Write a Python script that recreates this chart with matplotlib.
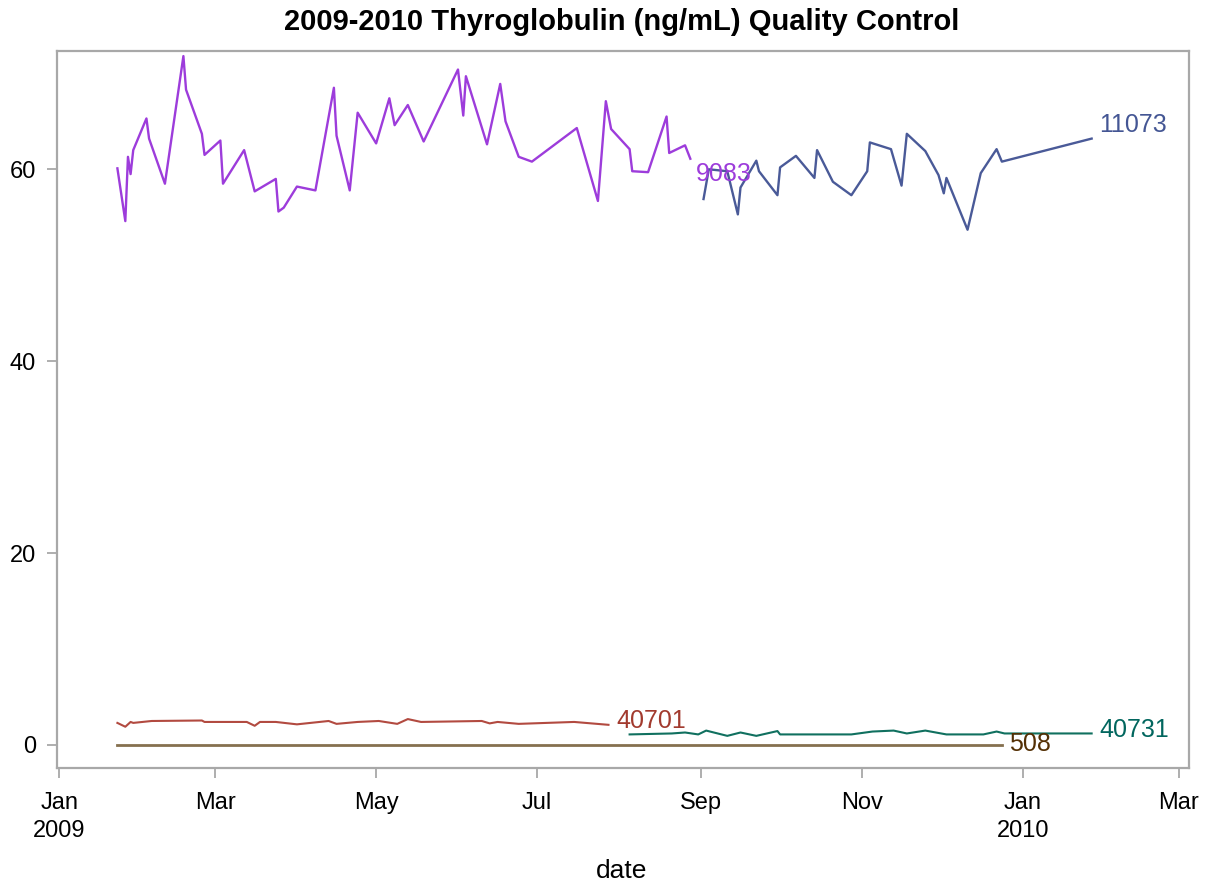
import matplotlib
matplotlib.use("Agg")
import matplotlib.pyplot as plt
import numpy as np
import pandas as pd

plt.rcParams['font.family'] = ['Liberation Sans', 'DejaVu Sans']

# ---------------- data ----------------
dates_9083 = ["2009-01-23", "2009-01-26", "2009-01-27", "2009-01-28", "2009-01-29",
              "2009-02-03", "2009-02-04", "2009-02-10", "2009-02-17", "2009-02-18",
              "2009-02-24", "2009-02-25", "2009-03-03", "2009-03-04", "2009-03-12",
              "2009-03-16", "2009-03-24", "2009-03-25", "2009-03-27", "2009-04-01",
              "2009-04-08", "2009-04-15", "2009-04-16", "2009-04-21", "2009-04-24",
              "2009-05-01", "2009-05-06", "2009-05-08", "2009-05-13", "2009-05-19",
              "2009-06-01", "2009-06-03", "2009-06-04", "2009-06-12", "2009-06-17",
              "2009-06-19", "2009-06-24", "2009-06-29", "2009-07-16", "2009-07-24",
              "2009-07-27", "2009-07-29", "2009-08-05", "2009-08-06", "2009-08-12",
              "2009-08-19", "2009-08-20", "2009-08-26", "2009-08-28"]
values_9083 = [60.1, 54.6, 61.3, 59.5, 62.0,
               65.3, 63.2, 58.5, 71.8, 68.3,
               63.7, 61.5, 63.0, 58.5, 62.0,
               57.7, 59.0, 55.6, 56.0, 58.2,
               57.8, 68.5, 63.5, 57.8, 65.9,
               62.7, 67.4, 64.6, 66.7, 62.9,
               70.4, 65.6, 69.7, 62.6, 68.9,
               65.0, 61.3, 60.8, 64.3, 56.7,
               67.1, 64.2, 62.1, 59.8, 59.7,
               65.5, 61.7, 62.5, 61.1]

dates_11073 = ["2009-09-02", "2009-09-04", "2009-09-11", "2009-09-15", "2009-09-16",
               "2009-09-22", "2009-09-23", "2009-09-30", "2009-10-01", "2009-10-07",
               "2009-10-14", "2009-10-15", "2009-10-21", "2009-10-28", "2009-11-03",
               "2009-11-04", "2009-11-12", "2009-11-16", "2009-11-18", "2009-11-25",
               "2009-11-30", "2009-12-02", "2009-12-03", "2009-12-11", "2009-12-16",
               "2009-12-22", "2009-12-24", "2010-01-27"]
values_11073 = [56.9, 60.0, 59.8, 55.3, 58.1,
                60.9, 59.8, 57.3, 60.2, 61.4,
                59.1, 62.0, 58.7, 57.3, 59.8,
                62.8, 62.1, 58.3, 63.7, 61.9,
                59.4, 57.5, 59.1, 53.7, 59.6,
                62.1, 60.8, 63.2]

dates_40701 = ["2009-01-23", "2009-01-26", "2009-01-28", "2009-01-29", "2009-02-05",
               "2009-02-24", "2009-02-25", "2009-03-13", "2009-03-16", "2009-03-18",
               "2009-03-24", "2009-04-01", "2009-04-13", "2009-04-16", "2009-04-24",
               "2009-05-02", "2009-05-09", "2009-05-13", "2009-05-18", "2009-06-10",
               "2009-06-13", "2009-06-16", "2009-06-24", "2009-07-15", "2009-07-28"]
values_40701 = [2.3, 1.9, 2.4, 2.3, 2.5,
                2.55, 2.4, 2.4, 2.0, 2.4,
                2.4, 2.15, 2.5, 2.2, 2.4,
                2.5, 2.2, 2.7, 2.4, 2.5,
                2.25, 2.4, 2.2, 2.4, 2.1]

dates_40731 = ["2009-08-05", "2009-08-21", "2009-08-26", "2009-08-31", "2009-09-03",
               "2009-09-11", "2009-09-16", "2009-09-22", "2009-09-30", "2009-10-01",
               "2009-10-14", "2009-10-28", "2009-11-05", "2009-11-13", "2009-11-18",
               "2009-11-25", "2009-12-03", "2009-12-17", "2009-12-22", "2009-12-25",
               "2010-01-27"]
values_40731 = [1.1, 1.2, 1.3, 1.1, 1.5,
                0.95, 1.3, 0.95, 1.45, 1.1,
                1.1, 1.1, 1.4, 1.5, 1.2,
                1.5, 1.1, 1.1, 1.4, 1.2,
                1.2]

dates_508 = ["2009-01-23", "2009-12-24"]
values_508 = [0.0, 0.0]

series_names = ["9083", "11073", "40701", "40731", "508"]

tick_dates = ["2009-01-01", "2009-03-01", "2009-05-01", "2009-07-01", "2009-09-01",
              "2009-11-01", "2010-01-01", "2010-03-01"]
tick_labels = ["Jan\n2009", "Mar", "May", "Jul", "Sep", "Nov", "Jan\n2010", "Mar"]
y_ticks = [0, 20, 40, 60]

title = "2009-2010 Thyroglobulin (ng/mL) Quality Control"
x_label = "date"

# ---------------- styles ----------------
line_colors = {"9083": "#9D3CDB", "11073": "#4A5A98", "40701": "#B24A40",
               "40731": "#10705F", "508": "#85704F"}
text_colors = {"9083": "#9D3CDB", "11073": "#445694", "40701": "#A23A2E",
               "40731": "#01665E", "508": "#543005"}
line_widths = {"9083": 1.7, "11073": 1.7, "40701": 1.5, "40731": 1.5, "508": 2.0}
# label offsets in pixels (dx, dy up)
label_offsets = {"9083": (6, -15), "11073": (7, 14), "40701": (8, 4),
                 "40731": (8, 3), "508": (7, 1)}

series = {
    "9083": (dates_9083, values_9083),
    "11073": (dates_11073, values_11073),
    "40701": (dates_40701, values_40701),
    "40731": (dates_40731, values_40731),
    "508": (dates_508, values_508),
}

fig = plt.figure(figsize=(12.1, 8.84), dpi=100)
ax = fig.add_axes([57 / 1210, 1 - 768 / 884, (1189 - 57) / 1210, (768 - 51) / 884])

px2pt = 72 / 100
for name in series_names:
    d, v = series[name]
    dd = pd.to_datetime(d)
    ax.plot(dd, v, color=line_colors[name], lw=line_widths[name])
    dx, dy = label_offsets[name]
    ax.annotate(name, xy=(dd[-1], v[-1]), xytext=(dx * px2pt, dy * px2pt),
                textcoords='offset points', ha='left', va='center',
                color=text_colors[name], fontsize=18)

ax.set_xlim(pd.Timestamp("2008-12-31 03:00"), pd.Timestamp("2010-03-04 21:00"))
ax.set_ylim(-2.4, 72.33)

ax.set_xticks(pd.to_datetime(tick_dates))
ax.set_xticklabels(tick_labels, linespacing=1.35)
ax.set_yticks(y_ticks)

spine_color = "#A8A8A8"
for s in ax.spines.values():
    s.set_color(spine_color)
    s.set_linewidth(1.6)

ax.tick_params(axis='both', colors=spine_color, labelcolor='black', labelsize=17,
               length=7, width=1.3, direction='out')
ax.tick_params(axis='x', pad=10)
ax.tick_params(axis='y', pad=8)

fig.text(622 / 1210, 1 - 871 / 884, x_label, ha='center', va='center', fontsize=19)
fig.text(622 / 1210, 1 - 22 / 884, title, ha='center', va='center', fontsize=21,
         fontweight='bold')

fig.savefig("out.png", dpi=100, facecolor='white')
